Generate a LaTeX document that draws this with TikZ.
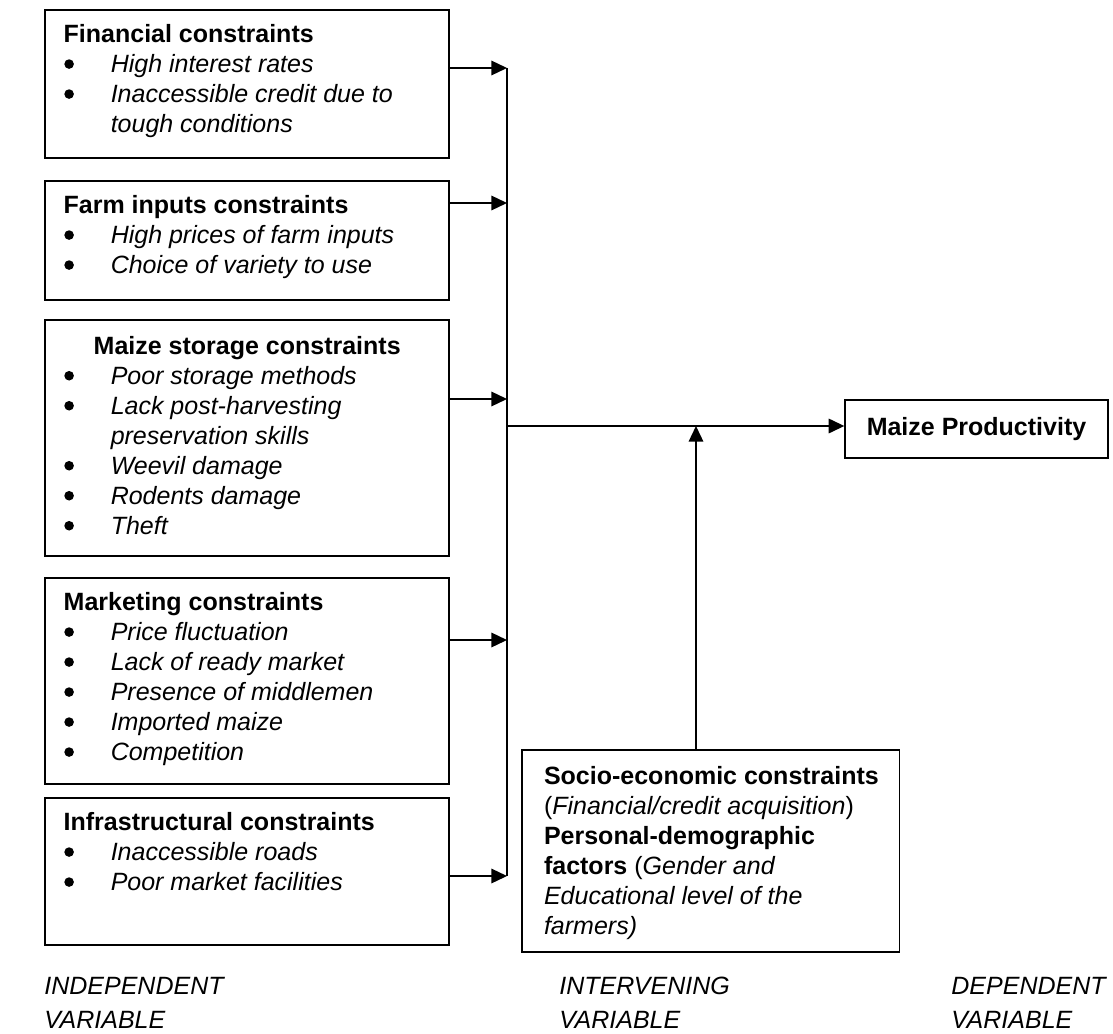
\documentclass[tikz,border=0pt]{standalone}
\usepackage{fontspec}
\setmainfont{Liberation Sans}
\usetikzlibrary{positioning,arrows.meta}

\tikzset{
  cbox/.style={draw, line width=0.9pt, anchor=north west, inner xsep=9pt, inner ysep=0pt,
    font=\fontsize{12}{14.4}\selectfont},
  arr/.style={line width=0.7pt, -{Triangle[length=7.5pt,width=7pt]}},
  varlabel/.style={anchor=north west, align=left, inner sep=0pt,
    font=\fontsize{12}{16.3}\selectfont\itshape}
}
\newcommand{\boxbody}[4]{\parbox[c][#2][t]{#1}{\raggedright\vspace*{#3}\strut #4}}
\newcommand{\dotmark}{\tikz[baseline=-4.2pt]\fill (0,0) circle (2.3pt);}
\newcommand{\bul}[1]{\par\hangindent=22.6pt\hangafter=1\noindent
  \makebox[22.6pt][l]{\hspace{0.3pt}\dotmark}\textit{#1}}

\begin{document}
\begin{tikzpicture}[x=0.48pt, y=-0.48pt]
  \useasboundingbox (0,0) rectangle (1113,1034);

  % independent variables
  \node[cbox] (fin) at (44,9) {\boxbody{176pt}{71pt}{5.7pt}{\textbf{Financial constraints}
    \bul{High interest rates}
    \bul{Inaccessible credit due to\newline tough conditions}}};
  \node[cbox] (farm) at (44,180) {\boxbody{176pt}{57.1pt}{5.7pt}{\textbf{Farm inputs constraints}
    \bul{High prices of farm inputs}
    \bul{Choice of variety to use}}};
  \node[cbox] (store) at (44,319) {\boxbody{176pt}{113.3pt}{6.5pt}{\hspace*{14.4pt}\textbf{Maize storage constraints}
    \bul{Poor storage methods}
    \bul{Lack post-harvesting\newline preservation skills}
    \bul{Weevil damage}
    \bul{Rodents damage}
    \bul{Theft}}};
  \node[cbox] (mark) at (44,577) {\boxbody{176pt}{98.9pt}{5.7pt}{\textbf{Marketing constraints}
    \bul{Price fluctuation}
    \bul{Lack of ready market}
    \bul{Presence of middlemen}
    \bul{Imported maize}
    \bul{Competition}}};
  \node[cbox] (infra) at (44,797) {\boxbody{176pt}{70.6pt}{5.7pt}{\textbf{Infrastructural constraints}
    \bul{Inaccessible roads}
    \bul{Poor market facilities}}};

  % intervening and dependent variables
  \node[cbox, inner xsep=10.6pt] (inter) at (521,749) {\boxbody{160pt}{97pt}{6.7pt}{\mbox{\textbf{Socio-economic constraints}}\\
    (\textit{Financial/credit acquisition})\\
    \textbf{Personal-demographic}\\
    \textbf{factors} (\textit{Gender and}\\
    \textit{Educational level of the}\\
    \textit{farmers)}}};
  \node[draw, line width=0.9pt, minimum width=126pt, minimum height=27.8pt, inner sep=0pt,
    font=\fontsize{12}{14.4}\selectfont\bfseries] (prod) at (976.5,429) {Maize Productivity};

  % connectors
  \foreach \n/\y in {1/68,2/203,3/399,4/640,5/876}
    \coordinate (j\n) at (507,\y);
  \coordinate (jm) at (507,426);
  \coordinate (up) at (696,426);
  \draw[line width=0.7pt] (j1) -- (j5);
  \foreach \src/\n in {fin/1,farm/2,store/3,mark/4,infra/5}
    \draw[arr] (j\n -| \src.east) -- (j\n);
  \draw[arr] (jm) -- (jm -| prod.west);
  \draw[arr] (up |- inter.north) -- (up);

  % variable labels
  \node[varlabel] (indep) at (44,977) {INDEPENDENT\\VARIABLE};
  \node[varlabel] (interv) at (559,977) {INTERVENING\\VARIABLE};
  \node[varlabel] (dep) at (951,977) {DEPENDENT\\VARIABLE};
\end{tikzpicture}
\end{document}
